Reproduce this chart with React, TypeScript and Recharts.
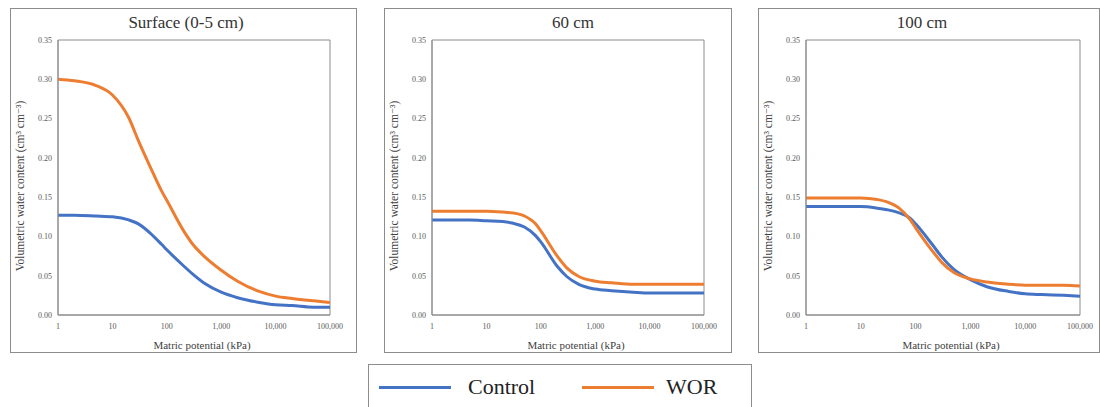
import React from 'react';
import { LineChart, Line, XAxis, YAxis, ReferenceArea, Label } from 'recharts';

const potentials = [1, 2, 5, 10, 20, 30, 50, 80, 100, 200, 300, 500, 1000, 2000, 5000, 10000, 20000, 50000, 100000];

const surfaceControl = [0.127, 0.127, 0.126, 0.125, 0.121, 0.116, 0.104, 0.09, 0.083, 0.063, 0.052, 0.04, 0.029, 0.022, 0.016, 0.013, 0.012, 0.01, 0.01];
const surfaceWOR = [0.3, 0.298, 0.292, 0.28, 0.251, 0.222, 0.188, 0.158, 0.146, 0.108, 0.09, 0.074, 0.057, 0.043, 0.03, 0.024, 0.021, 0.018, 0.016];

const cm60Control = [0.121, 0.121, 0.121, 0.12, 0.119, 0.117, 0.112, 0.101, 0.093, 0.062, 0.049, 0.039, 0.033, 0.031, 0.029, 0.028, 0.028, 0.028, 0.028];
const cm60WOR = [0.132, 0.132, 0.132, 0.132, 0.131, 0.13, 0.126, 0.116, 0.107, 0.075, 0.06, 0.049, 0.043, 0.041, 0.039, 0.039, 0.039, 0.039, 0.039];

const cm100Control = [0.138, 0.138, 0.138, 0.138, 0.136, 0.134, 0.13, 0.123, 0.116, 0.09, 0.074, 0.058, 0.045, 0.036, 0.03, 0.027, 0.026, 0.025, 0.024];
const cm100WOR = [0.149, 0.149, 0.149, 0.149, 0.147, 0.144, 0.136, 0.121, 0.111, 0.082, 0.067, 0.054, 0.046, 0.042, 0.039, 0.038, 0.038, 0.038, 0.037];

const xTicks = [1, 10, 100, 1000, 10000, 100000];
const yTicks = [0, 0.05, 0.1, 0.15, 0.2, 0.25, 0.3, 0.35];

const series = [
  { key: 'control', name: 'Control', color: '#4472C4' },
  { key: 'wor', name: 'WOR', color: '#ED7D31' },
];

const FONT = '"Liberation Serif", "DejaVu Serif", Tinos, "Times New Roman", Times, serif';
const GRAY = '#8c8c8c';

const buildRows = (control: number[], wor: number[]) =>
  potentials.map((p, i) => ({ p, control: control[i], wor: wor[i] }));

interface PanelProps {
  title: string;
  left: number;
  width: number;
  marginRight: number;
  titleX: number;
  control: number[];
  wor: number[];
}

const PANEL_TOP = 8;
const PANEL_H = 345;

const Panel: React.FC<PanelProps> = ({ title, left, width, marginRight, titleX, control, wor }) => {
  const rows = buildRows(control, wor);
  return (
    <div style={{ position: 'absolute', left, top: PANEL_TOP, width, height: PANEL_H, border: `1px solid ${GRAY}`, boxSizing: 'border-box' }}>
      <div style={{ position: 'absolute', left: -1, top: -1, width, height: PANEL_H, fontFamily: FONT }}>
        <div style={{ position: 'absolute', left: titleX - left - 100, top: 5, width: 200, textAlign: 'center', fontFamily: FONT, fontSize: 17, color: '#333' }}>
          {title}
        </div>
        {/* rotated y-axis title */}
        <div
          style={{
            position: 'absolute', left: 10 - 110, top: 178 - 8, width: 220, height: 16, lineHeight: '16px',
            textAlign: 'center', transform: 'rotate(-90deg)', fontFamily: FONT, fontSize: 11.5, color: '#404040', whiteSpace: 'nowrap',
          }}
        >
          Volumetric water content (cm³ cm⁻³)
        </div>
        <LineChart width={width} height={PANEL_H} data={rows} margin={{ top: 32, right: marginRight, left: 8, bottom: 8 }} style={{ position: 'absolute', left: 0, top: 0 }}>
          <XAxis
            dataKey="p"
            type="number"
            scale="log"
            domain={[1, 100000]}
            ticks={xTicks}
            allowDataOverflow
            tickFormatter={(v: number) => v.toLocaleString('en-US')}
            tick={{ fontSize: 8, fill: '#595959', stroke: 'none', fontFamily: FONT }}
            tickLine={false}
            tickSize={0}
            tickMargin={8}
            axisLine={{ stroke: GRAY }}
            height={30}
          >
            <Label value="Matric potential (kPa)" position="insideBottom" offset={-4} dx={8} style={{ fontSize: 11, fill: '#404040', fontFamily: FONT }} />
          </XAxis>
          <YAxis
            type="number"
            domain={[0, 0.35]}
            ticks={yTicks}
            tickFormatter={(v: number) => v.toFixed(2)}
            tick={{ fontSize: 8, fill: '#595959', stroke: 'none', fontFamily: FONT }}
            tickLine={false}
            tickSize={0}
            tickMargin={6}
            axisLine={{ stroke: GRAY }}
            width={40}
          />
          <ReferenceArea x1={1} x2={100000} y1={0} y2={0.35} fill="none" stroke={GRAY} strokeWidth={1} />
          {series.map((s) => (
            <Line key={s.key} dataKey={s.key} name={s.name} type="monotone" stroke={s.color} strokeWidth={3} dot={false} isAnimationActive={false} />
          ))}
        </LineChart>
      </div>
    </div>
  );
};

export default function App() {
  return (
    <div style={{ position: 'absolute', left: 0, top: 0, width: 1100, height: 407, overflow: 'hidden', background: '#fff' }}>
      <Panel title="Surface (0-5 cm)" left={10} width={347} marginRight={27} titleX={186} control={surfaceControl} wor={surfaceWOR} />
      <Panel title="60 cm" left={384} width={348} marginRight={28} titleX={573} control={cm60Control} wor={cm60WOR} />
      <Panel title="100 cm" left={758} width={342} marginRight={20} titleX={922} control={cm100Control} wor={cm100WOR} />
      <div style={{ position: 'absolute', left: 368, top: 364, width: 384, height: 60, border: `1px solid ${GRAY}`, boxSizing: 'border-box' }}>
        {series.map((s, i) => (
          <div key={s.key} style={{ position: 'absolute', left: i === 0 ? 10 : 213, top: 9, display: 'flex', alignItems: 'center' }}>
            <div style={{ width: 72, height: 3, background: s.color }} />
            <span style={{ marginLeft: i === 0 ? 17 : 12, fontFamily: FONT, fontSize: 22, color: '#222' }}>{s.name}</span>
          </div>
        ))}
      </div>
    </div>
  );
}
